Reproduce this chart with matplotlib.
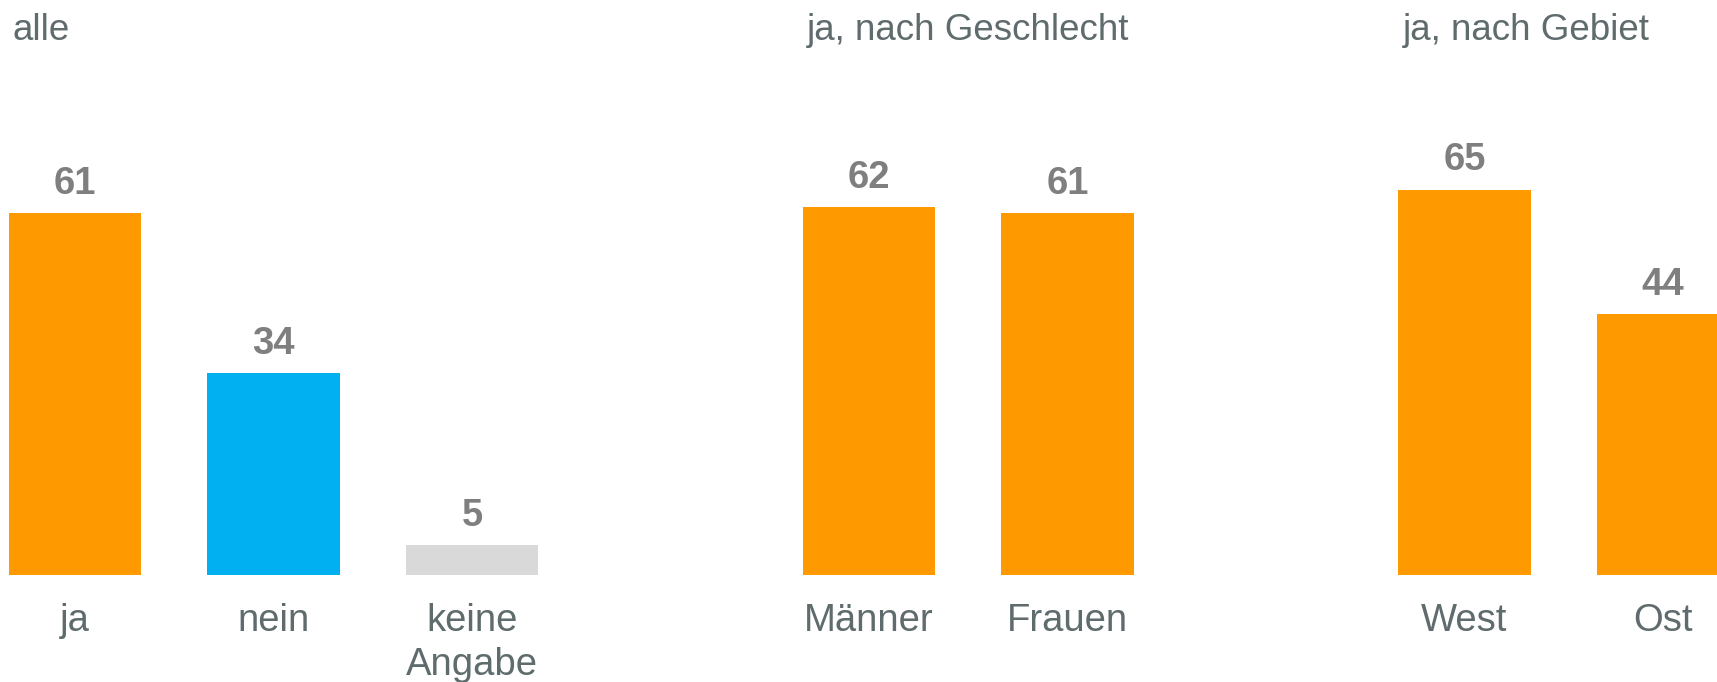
import numpy as np
import matplotlib
matplotlib.use("Agg")
import matplotlib.pyplot as plt
import matplotlib.transforms as mtransforms

plt.rcParams['font.family'] = ['Liberation Sans', 'DejaVu Sans']

# data
kategorien = ["ja", "nein", "keine\nAngabe", "Männer", "Frauen", "West", "Ost"]
werte = [61, 34, 5, 62, 61, 65, 44]
positionen = [0, 1, 2, 4, 5, 7, 8]
farben = ["#FF9900", "#00B0F0", "#D9D9D9", "#FF9900", "#FF9900", "#FF9900", "#FF9900"]
gruppen_titel = ["alle", "ja, nach Geschlecht", "ja, nach Gebiet"]
gruppen_start = [0, 4, 7]

textfarbe = "#5F6B6D"
wertfarbe = "#7F7F7F"
breite = 0.665
schrift = 27.5

fig = plt.figure(figsize=(17.17, 6.82), dpi=100)
ax = fig.add_axes([0, 107 / 682, 1, 575 / 682])

ax.bar(positionen, werte, width=breite, color=farben)

for x, v in zip(positionen, werte):
    ax.annotate(str(v), (x, v), xytext=(0, 21), textcoords="offset points",
                ha="center", va="center", fontsize=schrift, fontweight="bold",
                color=wertfarbe)

# Gruppentitel oben, links buendig mit dem ersten Balken
trans = mtransforms.blended_transform_factory(ax.transData, fig.transFigure)
for titel, start in zip(gruppen_titel, gruppen_start):
    ax.text(start - breite / 2 + 0.02, 1 - 31 / 682, titel, transform=trans,
            ha="left", va="center", fontsize=26.5, color=textfarbe,
            clip_on=False)

ax.set_xlim(-75 / 198.5, 8 + (1717 - 1663) / 198.5)
ax.set_ylim(0, 575 / 5.93)
ax.set_xticks(positionen)
ax.set_xticklabels(kategorien, fontsize=schrift, color=textfarbe, linespacing=1.3)
ax.tick_params(axis="x", length=0, pad=20)
ax.set_yticks([])
for s in ax.spines.values():
    s.set_visible(False)

fig.savefig("out.png", dpi=100)
